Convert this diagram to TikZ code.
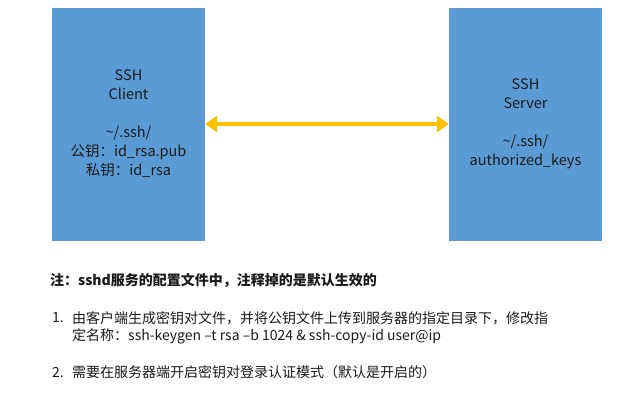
\documentclass[tikz,border=0pt]{standalone}
\usepackage{fontspec}
\setmainfont{Noto Sans CJK SC}
\usetikzlibrary{arrows.meta}
\definecolor{boxblue}{HTML}{5B9BD5}
\definecolor{arrowgold}{HTML}{FFC000}
\definecolor{txt}{HTML}{1A1A1A}
\tikzset{
  keybox/.style={draw=none, fill=boxblue, minimum width=153pt, minimum height=233pt,
    inner sep=0pt, align=center, text=txt, font=\fontsize{14.5}{19}\selectfont},
  notetext/.style={anchor=west, inner sep=0pt, text=txt, font=\fontsize{14}{16}\selectfont},
}
\begin{document}
\begin{tikzpicture}[x=1pt,y=-1pt]
\useasboundingbox (0,0) rectangle (626,400);
\node[keybox] (client) at (128.5,124) {SSH\\Client\\[19pt]\textasciitilde/.ssh/\\公钥：id\_rsa.pub\\私钥：id\_rsa};
\node[keybox] (server) at (525.5,124) {SSH\\Server\\[19pt]\textasciitilde/.ssh/\\authorized\_keys};
\draw[arrowgold, line width=4pt, {Triangle[length=12pt,width=16pt]}-{Triangle[length=12pt,width=16pt]}] (client.east) -- (server.west);
\node[notetext, font=\fontsize{14}{16}\selectfont\bfseries] (note) at (50,281) {注：sshd服务的配置文件中，注释掉的是默认生效的};
\node[notetext] (n1) at (52,318) {1.};
\node[notetext] (t1a) at (72,318) {由客户端生成密钥对文件，并将公钥文件上传到服务器的指定目录下，修改指};
\node[notetext] (t1b) at (72,336) {定名称：ssh-keygen –t rsa –b 1024 \& ssh-copy-id user@ip};
\node[notetext] (n2) at (52,372) {2.};
\node[notetext] (t2) at (72,372) {需要在服务器端开启密钥对登录认证模式（默认是开启的）};
\end{tikzpicture}
\end{document}
